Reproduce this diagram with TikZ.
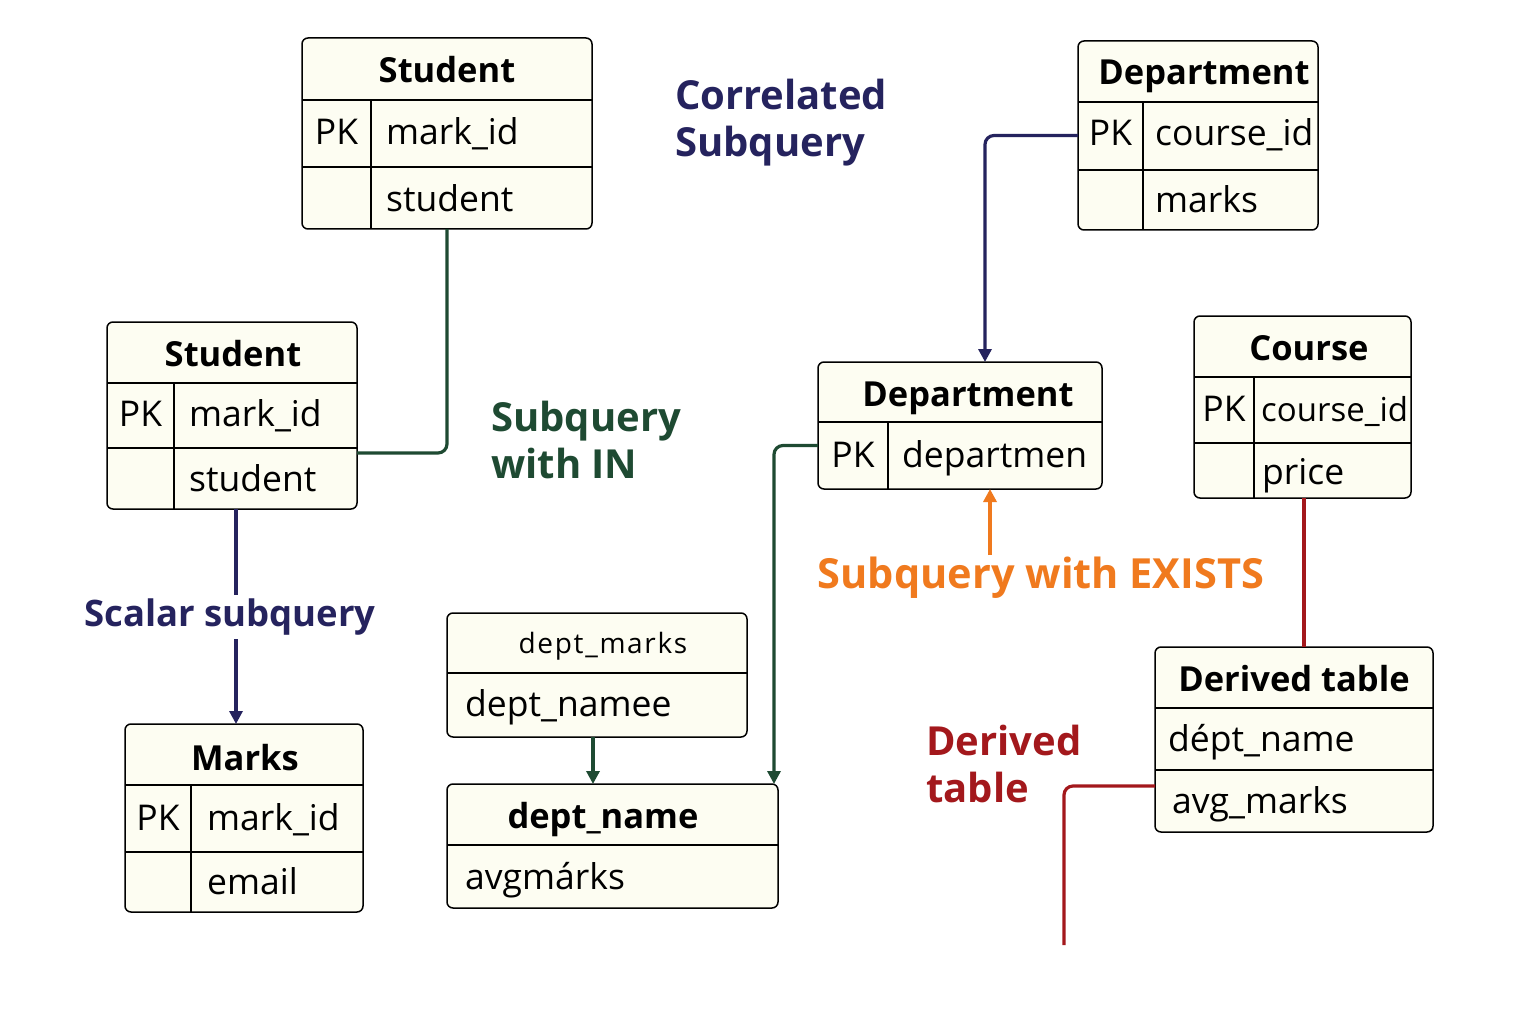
\documentclass[tikz,border=0pt]{standalone}
\usepackage{fontspec}
\setmainfont{Open Sans}
\usetikzlibrary{arrows.meta}

\definecolor{cream}{HTML}{FDFDF2}
\definecolor{navy}{HTML}{25235E}
\definecolor{pine}{HTML}{1E4A32}
\definecolor{tangerine}{HTML}{F07A1E}
\definecolor{crimson}{HTML}{A3181C}

\begin{document}
\begin{tikzpicture}[x=1pt, y=-1pt,
    tablebox/.style={draw=black, fill=cream, line width=1.5pt, rounded corners=6pt, inner sep=0pt, outer sep=0pt},
    gridline/.style={line width=1.3pt},
    tabletitle/.style={font=\bfseries\fontsize{34.5}{38}\selectfont, anchor=base, inner sep=0pt},
    field/.style={font=\fontsize{35.5}{40}\selectfont, anchor=base west, inner sep=0pt},
    pk/.style={field, anchor=base},
    querytag/.style={font=\bfseries\fontsize{40}{47}\selectfont, align=left, anchor=west, inner sep=0pt},
    connector/.style={line width=3.2pt, rounded corners=9pt},
    arrowhead/.style={-{Triangle[length=13pt, width=13pt]}}
]
\fill[white] (0,0) rectangle (1536,1024);
\useasboundingbox (0,0) rectangle (1536,1024);

% Table frame: name, left, top, right, bottom, header line
\newcommand{\erbox}[6]{
    \node[tablebox, minimum width={(#4)-(#2)}, minimum height={(#5)-(#3)}] (#1) at ({((#2)+(#4))/2},{((#3)+(#5))/2}) {};
    \draw[gridline] (#2,#6) -- (#4,#6);
}

% Student (top)
\erbox{stuA}{302}{38}{592}{229}{100}
\draw[gridline] (302,167) -- (592,167);
\draw[gridline] (371,100) -- (371,229);
\node[tabletitle] (stuA-t) at (447,83) {Student};
\node[pk] (stuA-pk) at (336.5,145) {PK};
\node[field] (stuA-f1) at (386,145) {mark\_id};
\node[field] (stuA-f2) at (386,212) {student};

% Student (left)
\erbox{stuB}{107}{322}{357}{509}{383}
\draw[gridline] (107,448) -- (357,448);
\draw[gridline] (174,383) -- (174,509);
\node[tabletitle] (stuB-t) at (233,366) {Student};
\node[pk] (stuB-pk) at (140.5,426) {PK};
\node[field] (stuB-f1) at (189,426) {mark\_id};
\node[field] (stuB-f2) at (189,491) {student};

% Marks
\erbox{marks}{125}{724}{363}{912}{785}
\draw[gridline] (125,852) -- (363,852);
\draw[gridline] (191,785) -- (191,912);
\node[tabletitle] (marks-t) at (245,770) {Marks};
\node[pk] (marks-pk) at (158,830) {PK};
\node[field] (marks-f1) at (207,830) {mark\_id};
\node[field] (marks-f2) at (207,894) {email};

% dept_marks
\erbox{dmarks}{447}{613}{747}{737}{673}
\node[tabletitle, font=\fontsize{28}{32}\selectfont\addfontfeatures{LetterSpace=6}] (dmarks-t) at (603,653) {dept\_marks};
\node[field] (dmarks-f1) at (465,716) {dept\_namee};

% dept_name
\erbox{dname}{447}{784}{778}{908}{845}
\node[tabletitle] (dname-t) at (603,828) {dept\_name};
\node[field] (dname-f1) at (465,889) {avgmárks};

% Department (top right)
\erbox{depA}{1078}{41}{1318}{230}{102}
\draw[gridline] (1078,170) -- (1318,170);
\draw[gridline] (1143,102) -- (1143,230);
\node[tabletitle] (depA-t) at (1204,85) {Department};
\node[pk] (depA-pk) at (1110.5,146) {PK};
\node[field] (depA-f1) at (1155,146) {course\_id};
\node[field] (depA-f2) at (1155,213) {marks};

% Department (middle)
\erbox{depB}{818}{362}{1102}{489}{422}
\draw[gridline] (888,422) -- (888,489);
\node[tabletitle] (depB-t) at (968,406) {Department};
\node[pk] (depB-pk) at (853,467) {PK};
\node[field] (depB-f1) at (902,467) {departmen};

% Course
\erbox{course}{1194}{316}{1411}{498}{377}
\draw[gridline] (1194,443) -- (1411,443);
\draw[gridline] (1254,377) -- (1254,498);
\node[tabletitle] (course-t) at (1309,360) {Course};
\node[pk] (course-pk) at (1224,421) {PK};
\node[field, font=\fontsize{33}{40}\selectfont] (course-f1) at (1261,421) {course\_id};
\node[field] (course-f2) at (1262,484) {price};

% Derived table
\erbox{derived}{1155}{647}{1433}{832}{708}
\draw[gridline] (1155,770) -- (1433,770);
\node[tabletitle] (derived-t) at (1294,691) {Derived table};
\node[field] (derived-f1) at (1168,751) {dépt\_name};
\node[field] (derived-f2) at (1172,813) {avg\_marks};

% Query labels
\node[querytag, text=navy] (corr) at (675,123) {Correlated\\Subquery};
\node[querytag, text=pine] (inq) at (491,440) {Subquery\\with IN};
\node[querytag, text=navy, anchor=center, font=\bfseries\fontsize{36.5}{42}\selectfont, inner sep=4pt] (scal) at (230,617) {Scalar subquery};
\node[querytag, text=tangerine, anchor=center, font=\bfseries\fontsize{41.5}{48}\selectfont, inner sep=2pt] (exists) at (1041,578) {Subquery with EXISTS};
\node[querytag, text=crimson] (dtab) at (926,764) {Derived\\table};

% Connectors
\draw[connector, pine] (stuA.south) |- ([yshift=-37.5]stuB.east);
\draw[connector, navy] ([xshift=4]stuB.south) -- ([xshift=4]stuB.south |- scal.north);
\draw[connector, navy, arrowhead] ([xshift=4]stuB.south |- scal.south) -- ([xshift=4]stuB.south |- marks.north);
\draw[connector, navy, arrowhead] (depA.west) -| ([xshift=25]depB.north);
\draw[connector, pine, arrowhead] ([yshift=-20]depB.west) -| ([xshift=-4]dname.north east);
\draw[connector, pine, line width=4pt, arrowhead] ([xshift=-4]dmarks.south) -- ([xshift=-4]dmarks.south |- dname.north);
\draw[connector, tangerine, arrowhead] ([xshift=30]depB.south |- exists.north) -- ([xshift=30]depB.south);
\draw[connector, crimson] ([xshift=1.5]course.south) -- ([xshift=1.5]course.south |- derived.north);
\coordinate (dt-end) at (1064,945);
\draw[connector, crimson] ([yshift=-46.5]derived.west) -| (dt-end);
\end{tikzpicture}
\end{document}
